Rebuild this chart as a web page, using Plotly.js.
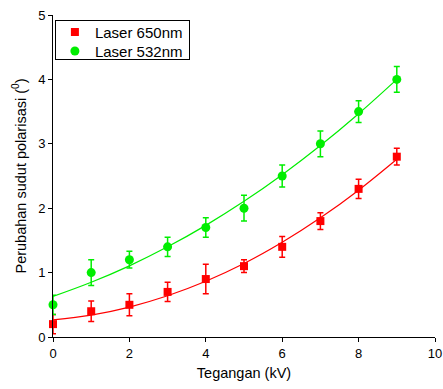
<!DOCTYPE html>
<html><head><meta charset="utf-8">
<script src="https://cdn.plot.ly/plotly-3.0.1.min.js"></script>
<style>html,body{margin:0;padding:0;background:#fff}#chart{width:443px;height:389px}</style>
</head><body><div id="chart"></div>
<script>
var voltage = [0,1,2,3,4,5,6,7,8,9];
var red650 = [0.2,0.4,0.5,0.7,0.9,1.1,1.4,1.8,2.3,2.8];
var red650Err = [0.15,0.16,0.17,0.15,0.23,0.1,0.16,0.13,0.15,0.13];
var green532 = [0.5,1.0,1.2,1.4,1.7,2.0,2.5,3.0,3.5,4.0];
var green532Err = [0.15,0.2,0.13,0.15,0.15,0.2,0.17,0.2,0.17,0.2];
var fitX = [0,1,2,3,4,5,6,7,8,9];
var fitRed = [0.265,0.34,0.465,0.64,0.865,1.14,1.47,1.85,2.28,2.76];
var fitGreen = [0.63,0.85,1.105,1.40,1.733,2.106,2.52,2.973,3.467,4.0];

var redC = '#ff0000', greenC = '#00ee00';
var traces = [
  {x: fitX, y: fitRed, mode:'lines', line:{color:redC, width:1.2, shape:'spline'}, showlegend:false, hoverinfo:'skip'},
  {x: fitX, y: fitGreen, mode:'lines', line:{color:greenC, width:1.2, shape:'spline'}, showlegend:false, hoverinfo:'skip'},
  {x: voltage, y: red650, name:'Laser 650nm', mode:'markers', cliponaxis:false,
   marker:{symbol:'square', size:8, color:redC},
   error_y:{type:'data', array:red650Err, visible:true, color:redC, thickness:1.5, width:3}},
  {x: voltage, y: green532, name:'Laser 532nm', mode:'markers', cliponaxis:false,
   marker:{symbol:'circle', size:9, color:greenC},
   error_y:{type:'data', array:green532Err, visible:true, color:greenC, thickness:1.5, width:3}}
];
var layout = {
  width:443, height:389,
  margin:{l:53, r:8, t:15, b:52},
  paper_bgcolor:'#fff', plot_bgcolor:'#fff',
  font:{family:'Liberation Sans, Arial, sans-serif', size:13, color:'#000'},
  showlegend:true,
  legend:{x:0.005, y:0.9845, xanchor:'left', yanchor:'top', bordercolor:'#000', borderwidth:1,
          bgcolor:'#fff', font:{size:15}, itemwidth:30, tracegroupgap:0},
  xaxis:{range:[0,10], tickvals:[0,2,4,6,8,10], showgrid:false, zeroline:false,
         showline:true, linecolor:'#000', linewidth:1, ticks:'outside', ticklen:4, tickcolor:'#000',
         tickfont:{size:13}, title:{text:'Tegangan (kV)', font:{size:14.5}, standoff:8}},
  yaxis:{range:[0,5], tickvals:[0,1,2,3,4,5], showgrid:false, zeroline:false,
         showline:true, linecolor:'#000', linewidth:1, ticks:'outside', ticklen:4, tickcolor:'#000',
         tickfont:{size:13}, title:{text:'Perubahan sudut polarisasi (<sup>0</sup>)', font:{size:14.5}, standoff:8}}
};
Plotly.newPlot('chart', traces, layout, {staticPlot:true, displayModeBar:false}).then(function(gd){
  try {
    var leg = gd.querySelector('g.legend');
    var items = leg.querySelectorAll('g.traces');
    for (var i = 0; i < items.length; i++) {
      items[i].setAttribute('transform', 'translate(0,' + (12 + 19 * i) + ')');
    }
    var bg = leg.querySelector('rect.bg');
    bg.setAttribute('height', 39);
  } catch (e) {}
});
</script></body></html>
